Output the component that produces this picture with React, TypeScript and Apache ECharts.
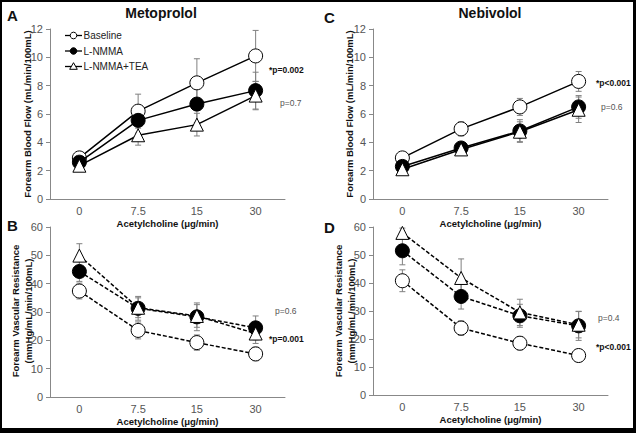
import React, { useEffect, useRef } from "react";
import * as echarts from "echarts";

const categories = ["0", "7.5", "15", "30"];

// Panel A: Metoprolol, Forearm Blood Flow
const fbfMetoBaseline = [2.9, 6.2, 8.2, 10.1];
const fbfMetoBaselineErr = [0.3, 1.2, 1.7, 1.8];
const fbfMetoLNMMA = [2.6, 5.55, 6.7, 7.65];
const fbfMetoLNMMAErr = [0.3, 0.9, 1.3, 1.3];
const fbfMetoTEA = [2.35, 4.5, 5.25, 7.3];
const fbfMetoTEAErr = [0.3, 0.7, 0.8, 1.0];

// Panel C: Nebivolol, Forearm Blood Flow
const fbfNebiBaseline = [2.9, 4.95, 6.5, 8.3];
const fbfNebiBaselineErr = [0.2, 0.5, 0.6, 0.7];
const fbfNebiLNMMA = [2.3, 3.6, 4.8, 6.5];
const fbfNebiLNMMAErr = [0.3, 0.4, 0.8, 0.8];
const fbfNebiTEA = [2.1, 3.5, 4.75, 6.3];
const fbfNebiTEAErr = [0.3, 0.4, 0.7, 0.9];

// Panel B: Metoprolol, Forearm Vascular Resistance
const fvrMetoBaseline = [37.4, 23.5, 19.2, 15.2];
const fvrMetoBaselineErr = [2.8, 3.0, 2.7, 2.4];
const fvrMetoLNMMA = [44.3, 31.3, 28.3, 24.4];
const fvrMetoLNMMAErr = [3.5, 4.2, 4.9, 4.2];
const fvrMetoTEA = [49.9, 31.5, 28.6, 22.4];
const fvrMetoTEAErr = [4.2, 3.5, 4.0, 3.5];

// Panel D: Nebivolol, Forearm Vascular Resistance
const fvrNebiBaseline = [40.8, 23.9, 18.5, 14.1];
const fvrNebiBaselineErr = [3.9, 2.6, 2.4, 2.2];
const fvrNebiLNMMA = [51.5, 35.2, 28.3, 24.7];
const fvrNebiLNMMAErr = [5.0, 4.5, 4.1, 5.2];
const fvrNebiTEA = [57.9, 41.8, 29.5, 25.1];
const fvrNebiTEAErr = [1.7, 6.8, 4.7, 4.7];

const seriesNames = ["Baseline", "L-NMMA", "L-NMMA+TEA"];
const xAxisTitle = "Acetylcholine (μg/min)";
const fbfTitle = "Forearm Blood Flow (mL/min/100mL)";
const fvrTitle = "Forearm Vascular Resistance\n(mmHg/mL/min/100mL)";

const FONT = "'Liberation Sans', Arial, sans-serif";

function errorSeries(idx: number, vals: number[], errs: number[]) {
  return {
    type: "custom",
    xAxisIndex: idx,
    yAxisIndex: idx,
    z: 1,
    silent: true,
    encode: { x: 0, y: 1 },
    data: vals.map((v, i) => [i, v, errs[i]]),
    renderItem: (params: any, api: any) => {
      const x = api.value(0);
      const y = api.value(1);
      const e = api.value(2);
      const hi = api.coord([x, y + e]);
      const lo = api.coord([x, y - e]);
      const w = 3;
      const st = { stroke: "#808080", lineWidth: 1 };
      return {
        type: "group",
        children: [
          { type: "line", shape: { x1: hi[0], y1: hi[1], x2: lo[0], y2: lo[1] }, style: st },
          { type: "line", shape: { x1: hi[0] - w, y1: hi[1], x2: hi[0] + w, y2: hi[1] }, style: st },
          { type: "line", shape: { x1: lo[0] - w, y1: lo[1], x2: lo[0] + w, y2: lo[1] }, style: st },
        ],
      };
    },
  };
}

function lineSeries(idx: number, kind: number, vals: number[], dashed: boolean) {
  const base: any = {
    type: "line",
    name: seriesNames[kind],
    xAxisIndex: idx,
    yAxisIndex: idx,
    data: vals,
    z: 2 + kind,
    lineStyle: { color: "#000", width: 1.5, type: dashed ? [4, 2] : "solid" },
    emphasis: { disabled: true },
  };
  if (kind === 0) {
    base.symbol = "circle";
    base.symbolSize = 14;
    base.itemStyle = { color: "#fff", borderColor: "#000", borderWidth: 1 };
  } else if (kind === 1) {
    base.symbol = "circle";
    base.symbolSize = 14;
    base.itemStyle = { color: "#000", borderColor: "#000", borderWidth: 1 };
  } else {
    base.symbol = "triangle";
    base.symbolSize = 13;
    base.itemStyle = { color: "#fff", borderColor: "#000", borderWidth: 1 };
  }
  return base;
}

const grids = [
  { left: 50, top: 29, width: 235, height: 170 },
  { left: 50, top: 227, width: 235, height: 170 },
  { left: 373, top: 29, width: 235, height: 170 },
  { left: 373, top: 227, width: 235, height: 168 },
];

export default function App() {
  const ref = useRef<HTMLDivElement>(null);
  useEffect(() => {
    if (!ref.current) return;
    const chart = echarts.init(ref.current, null, { renderer: "svg" });

    const xAxes = grids.map((_, i) => ({
      type: "category",
      gridIndex: i,
      data: categories,
      boundaryGap: true,
      axisLine: { lineStyle: { color: "#888", width: 1 } },
      axisTick: { alignWithLabel: true, length: 4, lineStyle: { color: "#888" } },
      axisLabel: { color: "#555", fontSize: 11, fontFamily: FONT, margin: 6 },
      name: xAxisTitle,
      nameLocation: "middle",
      nameGap: 19,
      nameTextStyle: { color: "#111", fontSize: 9.5, fontWeight: "bold", fontFamily: FONT },
      splitLine: { show: false },
    }));

    const yAxes = grids.map((_, i) => {
      const fbf = i === 0 || i === 2;
      return {
        type: "value",
        gridIndex: i,
        min: 0,
        max: fbf ? 12 : 60,
        interval: fbf ? 2 : 10,
        axisLine: { show: true, lineStyle: { color: "#888", width: 1 } },
        axisTick: { show: true, length: 4, lineStyle: { color: "#888" } },
        axisLabel: { color: "#555", fontSize: 11, fontFamily: FONT, margin: 7 },
        splitLine: { show: false },
      };
    });

    const panels = [
      { idx: 0, vals: [fbfMetoBaseline, fbfMetoLNMMA, fbfMetoTEA], errs: [fbfMetoBaselineErr, fbfMetoLNMMAErr, fbfMetoTEAErr], dashed: false },
      { idx: 1, vals: [fvrMetoBaseline, fvrMetoLNMMA, fvrMetoTEA], errs: [fvrMetoBaselineErr, fvrMetoLNMMAErr, fvrMetoTEAErr], dashed: true },
      { idx: 2, vals: [fbfNebiBaseline, fbfNebiLNMMA, fbfNebiTEA], errs: [fbfNebiBaselineErr, fbfNebiLNMMAErr, fbfNebiTEAErr], dashed: false },
      { idx: 3, vals: [fvrNebiBaseline, fvrNebiLNMMA, fvrNebiTEA], errs: [fvrNebiBaselineErr, fvrNebiLNMMAErr, fvrNebiTEAErr], dashed: true },
    ];

    const series: any[] = [];
    panels.forEach((p) => {
      for (let k = 0; k < 3; k++) series.push(errorSeries(p.idx, p.vals[k], p.errs[k]));
    });
    panels.forEach((p) => {
      for (let k = 0; k < 3; k++) series.push(lineSeries(p.idx, k, p.vals[k], p.dashed));
    });

    const txt = (x: number, y: number, text: string, opts: any = {}) => ({
      type: "text",
      x,
      y,
      rotation: opts.rotation || 0,
      style: {
        text,
        fill: opts.fill || "#111",
        font: `${opts.bold ? "bold " : ""}${opts.size || 10}px ${FONT}`,
        align: opts.align || "left",
        verticalAlign: "middle",
        lineHeight: opts.lineHeight,
      },
    });

    // Hand-drawn legend (small markers as in the reference)
    const legendRows = [35.5, 51, 66.5];
    const legendItems: any[] = [];
    seriesNames.forEach((name, k) => {
      const y = legendRows[k];
      const cx = 73.5;
      legendItems.push({
        type: "line",
        shape: { x1: 65, y1: y, x2: 82, y2: y },
        style: { stroke: "#000", lineWidth: 1.3 },
      });
      if (k < 2) {
        legendItems.push({
          type: "circle",
          shape: { cx, cy: y, r: 3.3 },
          style: { fill: k === 0 ? "#fff" : "#000", stroke: "#000", lineWidth: 1 },
        });
      } else {
        legendItems.push({
          type: "polygon",
          shape: { points: [[cx, y - 3.8], [cx + 3.8, y + 2.8], [cx - 3.8, y + 2.8]] },
          style: { fill: "#fff", stroke: "#000", lineWidth: 1 },
        });
      }
      legendItems.push(txt(83.5, y, name, { size: 10, fill: "#222" }));
    });

    const graphic: any[] = [
      txt(161, 13, "Metoprolol", { bold: true, size: 14, align: "center" }),
      txt(490, 13, "Nebivolol", { bold: true, size: 14, align: "center" }),
      txt(7, 15, "A", { bold: true, size: 15 }),
      txt(7, 225, "B", { bold: true, size: 15 }),
      txt(324, 17, "C", { bold: true, size: 15 }),
      txt(324, 227, "D", { bold: true, size: 15 }),
      txt(27, 114, fbfTitle, { bold: true, size: 9.5, align: "center", rotation: Math.PI / 2 }),
      txt(349, 114, fbfTitle, { bold: true, size: 9.5, align: "center", rotation: Math.PI / 2 }),
      txt(22, 311, fvrTitle, { bold: true, size: 9.5, align: "center", rotation: Math.PI / 2, lineHeight: 13 }),
      txt(345, 311, fvrTitle, { bold: true, size: 9.5, align: "center", rotation: Math.PI / 2, lineHeight: 13 }),
      txt(269, 70, "*p=0.002", { bold: true, size: 8.5 }),
      txt(280, 103, "p=0.7", { size: 8.5, fill: "#555" }),
      txt(596, 83, "*p<0.001", { bold: true, size: 8.5 }),
      txt(601, 107, "p=0.6", { size: 8.5, fill: "#555" }),
      txt(275, 311, "p=0.6", { size: 8.5, fill: "#555" }),
      txt(269, 339, "*p=0.001", { bold: true, size: 8.5 }),
      txt(598, 318, "p=0.4", { size: 8.5, fill: "#555" }),
      txt(596, 347, "*p<0.001", { bold: true, size: 8.5 }),
      ...legendItems,
      { type: "rect", shape: { x: 0, y: 0, width: 636, height: 2 }, style: { fill: "#000" } },
      { type: "rect", shape: { x: 0, y: 0, width: 2, height: 433 }, style: { fill: "#000" } },
      { type: "rect", shape: { x: 633, y: 0, width: 3, height: 433 }, style: { fill: "#000" } },
      { type: "rect", shape: { x: 0, y: 428, width: 636, height: 5 }, style: { fill: "#000" } },
    ];

    chart.setOption({
      animation: false,
      backgroundColor: "#fff",
      grid: grids,
      xAxis: xAxes,
      yAxis: yAxes,
      series,
      graphic,
    });
    return () => chart.dispose();
  }, []);
  return <div ref={ref} style={{ position: "fixed", left: 0, top: 0, width: 636, height: 433 }} />;
}
